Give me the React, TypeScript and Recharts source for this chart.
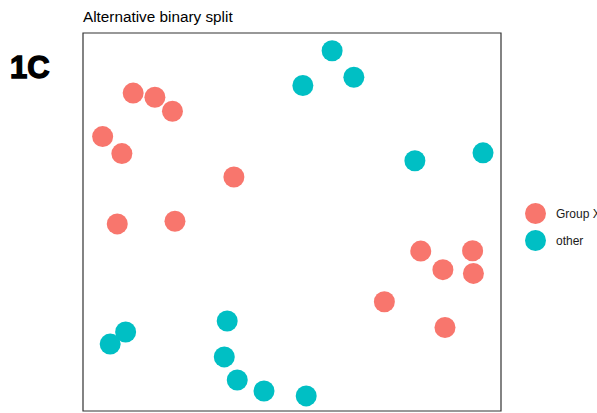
import { ScatterChart, Scatter, XAxis, YAxis, ReferenceArea } from "recharts";

const groupX = [
  { x: 12.0, y: 84.1 },
  { x: 17.2, y: 83.0 },
  { x: 21.4, y: 79.3 },
  { x: 4.7, y: 72.6 },
  { x: 9.3, y: 68.1 },
  { x: 36.1, y: 61.9 },
  { x: 8.2, y: 49.5 },
  { x: 22.0, y: 50.2 },
  { x: 80.8, y: 42.3 },
  { x: 93.2, y: 42.4 },
  { x: 86.1, y: 37.4 },
  { x: 93.4, y: 36.4 },
  { x: 72.1, y: 28.9 },
  { x: 86.6, y: 22.1 },
];

const other = [
  { x: 59.6, y: 95.3 },
  { x: 64.8, y: 88.3 },
  { x: 52.6, y: 86.1 },
  { x: 79.4, y: 66.2 },
  { x: 95.7, y: 68.3 },
  { x: 34.5, y: 23.8 },
  { x: 10.2, y: 20.9 },
  { x: 6.5, y: 17.7 },
  { x: 33.8, y: 14.3 },
  { x: 36.9, y: 8.2 },
  { x: 43.3, y: 5.3 },
  { x: 53.4, y: 4.0 },
];

const legendItems = [
  { name: "Group X", color: "#F8766D" },
  { name: "other", color: "#00BFC4" },
];

const dot = (color: string) => (props: any) =>
  <circle cx={props.cx} cy={props.cy} r={10.5} fill={color} />;

export default function App() {
  return (
    <div
      style={{
        position: "absolute",
        left: 0,
        top: 0,
        width: 597,
        height: 413,
        overflow: "hidden",
        background: "#fff",
        fontFamily: "'Liberation Sans', Arial, sans-serif",
      }}
    >
      <ScatterChart
        width={597}
        height={413}
        margin={{ top: 33, left: 83, right: 96, bottom: 2 }}
      >
        <XAxis type="number" dataKey="x" domain={[0, 100]} hide />
        <YAxis type="number" dataKey="y" domain={[0, 100]} hide />
        <ReferenceArea
          x1={0}
          x2={100}
          y1={0}
          y2={100}
          fill="none"
          stroke="#333333"
          strokeWidth={1.2}
        />
        <Scatter data={groupX} shape={dot("#F8766D")} isAnimationActive={false} />
        <Scatter data={other} shape={dot("#00BFC4")} isAnimationActive={false} />
        <text x={83} y={22} fontSize={15.3} fill="#000">
          Alternative binary split
        </text>
        <text
          x={10}
          y={78}
          fontSize={31}
          fontWeight="bold"
          fill="#000"
          stroke="#000"
          strokeWidth={1.4}
        >
          1C
        </text>
      </ScatterChart>
      <div style={{ position: "absolute", left: 525, top: 200 }}>
        {legendItems.map((it) => (
          <div
            key={it.name}
            style={{ display: "flex", alignItems: "center", height: 27, whiteSpace: "nowrap" }}
          >
            <span
              style={{
                width: 21,
                height: 21,
                borderRadius: "50%",
                background: it.color,
                display: "inline-block",
              }}
            />
            <span style={{ marginLeft: 10, fontSize: 12, color: "#1a1a1a" }}>{it.name}</span>
          </div>
        ))}
      </div>
    </div>
  );
}
